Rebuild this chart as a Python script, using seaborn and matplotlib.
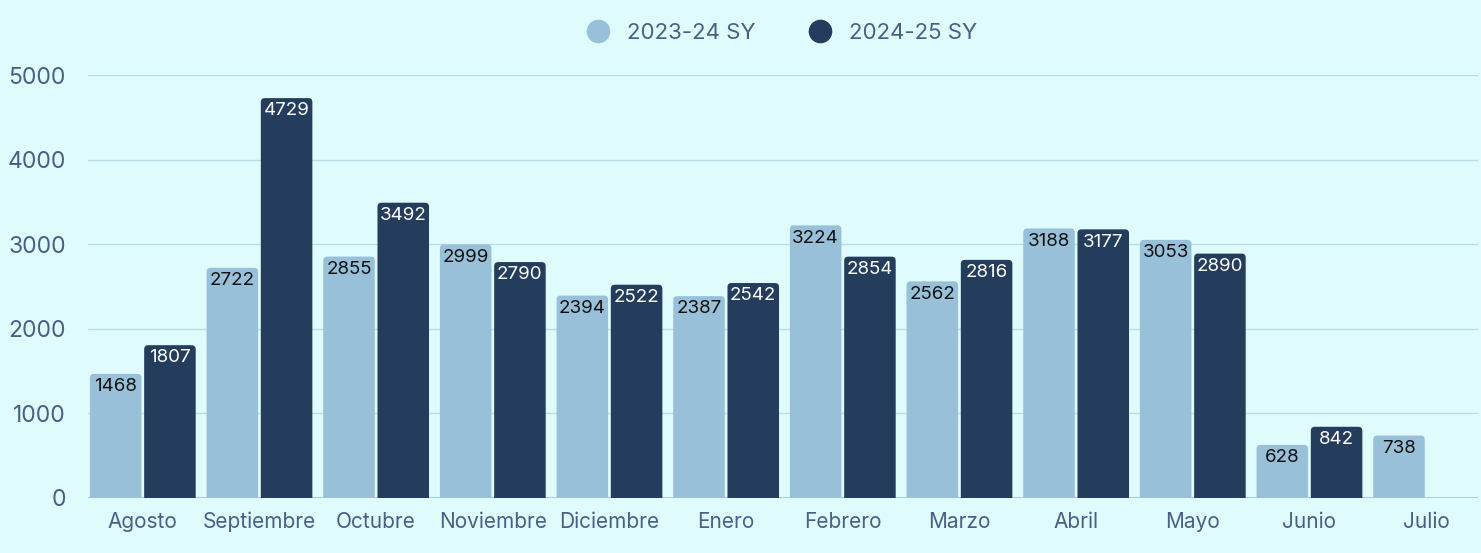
import numpy as np
import pandas as pd
import seaborn as sns
import matplotlib.pyplot as plt
from matplotlib.patches import FancyBboxPatch
from matplotlib.lines import Line2D

# datos
meses = ['Agosto', 'Septiembre', 'Octubre', 'Noviembre', 'Diciembre', 'Enero',
         'Febrero', 'Marzo', 'Abril', 'Mayo', 'Junio', 'Julio']
sy_2324 = [1468, 2722, 2855, 2999, 2394, 2387, 3224, 2562, 3188, 3053, 628, 738]
sy_2425 = [1807, 4729, 3492, 2790, 2522, 2542, 2854, 2816, 3177, 2890, 842, np.nan]
series = ['2023-24 SY', '2024-25 SY']

bg = '#e0fbfc'
c_light = '#98c1d9'
c_dark = '#253d5c'
txt = '#4a5f85'

df = pd.DataFrame({
    'mes': meses * 2,
    'valor': sy_2324 + sy_2425,
    'serie': [series[0]] * len(meses) + [series[1]] * len(meses),
})

sns.set_theme(style='white')
plt.rcParams['font.family'] = ['Inter', 'DejaVu Sans']

fig = plt.figure(figsize=(14.81, 5.53), dpi=100, facecolor=bg)
ax = fig.add_axes([0.0594, 0.0995, 0.9386, 0.7645], facecolor=bg)

sns.barplot(data=df, x='mes', y='valor', hue='serie', order=meses, hue_order=series,
            palette=[c_light, c_dark], width=0.93, gap=0.05, saturation=1,
            legend=False, ax=ax)

x0, x1 = -0.47, 11.445
ax.set_ylim(0, 5000)
ax.set_xlim(x0, x1)

# barras con esquinas superiores redondeadas
r_px = 4
ppd_y = ax.get_window_extent().height / 5000
ppd_x = ax.get_window_extent().width / (x1 - x0)
for p in list(ax.patches):
    h = p.get_height()
    if np.isnan(h) or h == 0:
        p.remove()
        continue
    x, w = p.get_x(), p.get_width()
    ry = r_px / ppd_y
    rx = r_px / ppd_x
    fb = FancyBboxPatch((x, -ry), w, h + ry,
                        boxstyle=f'round,pad=0,rounding_size={rx}',
                        mutation_aspect=ry / rx,
                        facecolor=p.get_facecolor(), edgecolor='none',
                        clip_on=True, zorder=2)
    p.remove()
    ax.add_patch(fb)

# etiquetas de valor
off = 0.93 / 4
for i, (a, b) in enumerate(zip(sy_2324, sy_2425)):
    ax.annotate(str(a), (i - off, a), xytext=(0, -3), textcoords='offset points',
                ha='center', va='top', fontsize=13.5, color='#111111', zorder=3)
    if not np.isnan(b):
        ax.annotate(str(int(b)), (i + off, b), xytext=(0, -3), textcoords='offset points',
                    ha='center', va='top', fontsize=13.5, color='white', zorder=3)

ax.set_yticks(range(0, 5001, 1000))
ax.yaxis.grid(True, color='#b9dde6', linewidth=1)
ax.set_axisbelow(True)
for s in ax.spines.values():
    s.set_visible(False)
ax.axhline(0, color='#9fc6d3', linewidth=1.2, zorder=1)
ax.tick_params(axis='both', length=0, colors=txt, labelsize=15)
ax.tick_params(axis='x', pad=10)
ax.tick_params(axis='y', pad=16)
for t in ax.get_yticklabels():
    t.set_fontsize(16.5)
ax.set_xlabel('')
ax.set_ylabel('')

handles = [Line2D([], [], marker='o', linestyle='', markersize=16, color=c)
           for c in (c_light, c_dark)]
fig.legend(handles, series, loc='center', bbox_to_anchor=(0.5245, 0.94), ncol=2,
           frameon=False, fontsize=16, labelcolor=txt, handletextpad=0.3,
           columnspacing=1.9)

fig.savefig('out.png', dpi=100, facecolor=bg)
